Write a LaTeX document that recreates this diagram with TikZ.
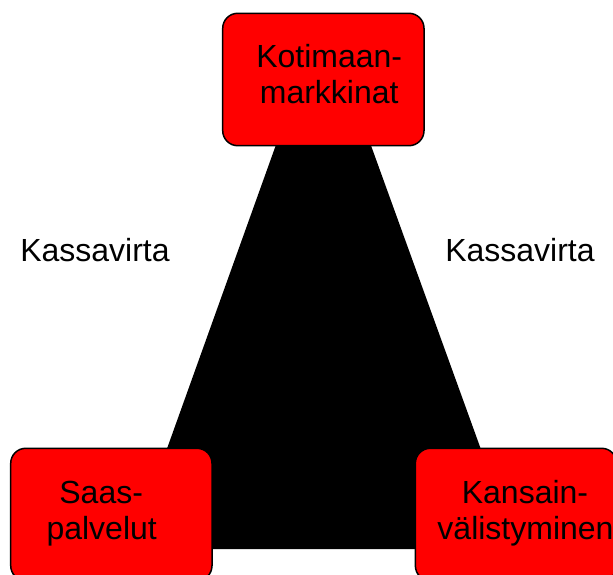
\documentclass[tikz,border=0pt]{standalone}
\usepackage{fontspec}
\setmainfont{Liberation Sans}
\begin{document}
\begin{tikzpicture}[x=1pt,y=-1pt,
  redbox/.style={draw=black,line width=1.5pt,fill=red,rounded corners=15pt,
    minimum width=201.3pt,minimum height=132.4pt,inner sep=0pt},
  txt/.style={font=\fontsize{32}{36.7}\selectfont,inner sep=0pt,anchor=base,text=black}]
\useasboundingbox (0,0) rectangle (613,575);
% cash-flow band joining the three markets
\fill[black] (277.7,140) -- (369,140) -- (517,549) -- (131,549) -- cycle;
% market boxes
\node[redbox] (koti) at (323.35,79.5) {};
\node[redbox] (saas) at (111.35,514.5) {};
\node[redbox] (kans) at (516.0,514.5) {};
% box texts
\node[txt] (koti1) at (329.2,67.3) {Kotimaan-};
\node[txt] (koti2) at (329.2,104) {markkinat};
\node[txt] (saas1) at (101.2,503) {Saas-};
\node[txt] (saas2) at (101.7,539) {palvelut};
\node[txt] (kans1) at (525.0,503) {Kansain-};
\node[txt] (kans2) at (525.5,539) {välistyminen};
% flow labels
\node[txt] (kvl) at (95,261.7) {Kassavirta};
\node[txt] (kvr) at (520,261.7) {Kassavirta};
\end{tikzpicture}
\end{document}
